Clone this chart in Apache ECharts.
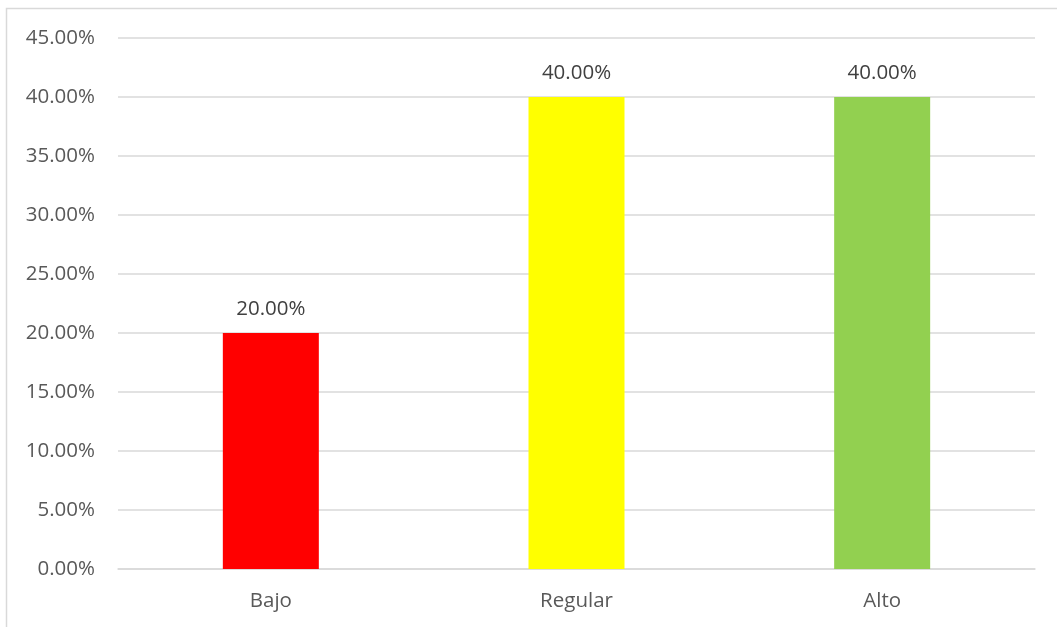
<!DOCTYPE html>
<html>
<head>
<meta charset="utf-8">
<script src="https://cdn.jsdelivr.net/npm/echarts@6/dist/echarts.min.js"></script>
<style>html,body{margin:0;padding:0;background:#fff;}#c{width:1057px;height:627px;}</style>
</head>
<body>
<div id="c"></div>
<script>
const categories = ['Bajo', 'Regular', 'Alto'];
const values = [20, 40, 40];
const colors = ['#ff0000', '#ffff00', '#92d050'];
const yTicks = { min: 0, max: 45, interval: 5 };

const chart = echarts.init(document.getElementById('c'), null, { renderer: 'canvas' });
const font = '"Open Sans", "Noto Sans", sans-serif';
chart.setOption({
  animation: false,
  backgroundColor: '#ffffff',
  graphic: [{
    type: 'rect',
    shape: { x: 6.5, y: 8.5, width: 1100, height: 700 },
    style: { fill: 'none', stroke: '#d9d9d9', lineWidth: 1.5 },
    silent: true
  }],
  grid: { left: 118, right: 22, top: 38, bottom: 58, containLabel: false },
  xAxis: {
    type: 'category',
    data: categories,
    axisLine: { lineStyle: { color: '#d9d9d9', width: 1.5 } },
    axisTick: { show: false },
    axisLabel: { color: '#595959', fontSize: 20.5, fontFamily: font, margin: 22 }
  },
  yAxis: {
    type: 'value',
    min: yTicks.min, max: yTicks.max, interval: yTicks.interval,
    axisLine: { show: false },
    axisTick: { show: false },
    splitLine: { lineStyle: { color: '#d9d9d9', width: 1.5 } },
    axisLabel: { color: '#595959', fontSize: 20.5, fontFamily: font, margin: 23,
      formatter: v => v.toFixed(2) + '%' }
  },
  series: [{
    type: 'bar',
    barWidth: 96,
    data: values.map((v, i) => ({ value: v, itemStyle: { color: colors[i] } })),
    label: {
      show: true, position: 'top', distance: 13,
      color: '#404040', fontSize: 20.5, fontFamily: font,
      formatter: p => p.value.toFixed(2) + '%'
    }
  }]
});
</script>
</body>
</html>
